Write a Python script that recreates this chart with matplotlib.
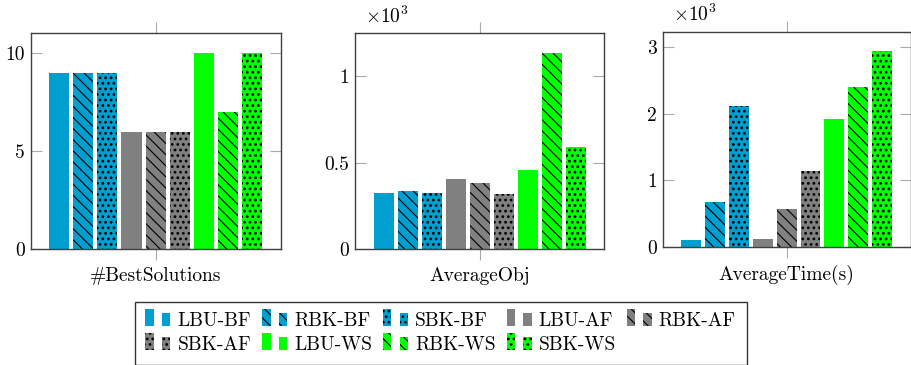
import matplotlib
matplotlib.use("Agg")
import matplotlib.pyplot as plt
from matplotlib.patches import Rectangle
from matplotlib.legend_handler import HandlerBase
from matplotlib.container import BarContainer

plt.rcParams["font.family"] = "cmr10"
plt.rcParams["mathtext.fontset"] = "cm"
plt.rcParams["axes.formatter.use_mathtext"] = True
plt.rcParams["axes.unicode_minus"] = False
plt.rcParams["hatch.linewidth"] = 0.8
plt.rcParams["font.size"] = 14

# data
methods = ["LBU-BF", "RBK-BF", "SBK-BF", "LBU-AF", "RBK-AF", "SBK-AF",
           "LBU-WS", "RBK-WS", "SBK-WS"]
best_solutions = [9, 9, 9, 6, 6, 6, 10, 7, 10]
avg_obj = [322, 336, 322, 403, 380, 318, 456, 1137, 591]
avg_time = [100, 672, 2117, 116, 567, 1139, 1921, 2398, 2949]

# style per method
colors = ["#009fd0"] * 3 + ["#808080"] * 3 + ["#00ff00"] * 3
hatches = ["", "\\\\\\", "..."] * 3
hatch_lw = {"": 0.8, "\\\\\\": 0.8, "...": 1.2}


class TwoBars(HandlerBase):
    # pgfplots-like ybar legend image: two little bars
    def create_artists(self, legend, orig_handle, xdescent, ydescent,
                       width, height, fontsize, trans):
        p = orig_handle.patches[0]
        w = width * 0.34
        out = []
        for x0, h in [(0, height * 1.28), (width * 0.66, height)]:
            with plt.rc_context({"hatch.linewidth": hatch_lw[p.get_hatch() or ""]}):
                r = Rectangle((x0 - xdescent, -ydescent), w, h,
                              facecolor=p.get_facecolor(), edgecolor="black",
                              linewidth=0, hatch=p.get_hatch(), transform=trans)
            out.append(r)
        return out


fig = plt.figure(figsize=(9.11, 3.65), dpi=100)

panels = [
    ("#BestSolutions", best_solutions, 1, [0, 5, 10], ["0", "5", "10"], 11.02,
     [30.7, 249, 250, 215.7]),
    ("AverageObj", avg_obj, 1000, [0, 0.5, 1], ["0", "0.5", "1"], 1.249,
     [355, 249, 249.3, 215.7]),
    ("AverageTime(s)", avg_time, 1000, [0, 1, 2, 3], ["0", "1", "2", "3"], 3.235,
     [662.7, 246.7, 248, 215]),
]

W, H = 911, 365
containers = []
for name, vals, scale, yt, ytl, ytop, (l, b, w, h) in panels:
    ax = fig.add_axes([l / W, 1 - b / H, w / W, h / H])
    conts = []
    for j in range(len(methods)):
        with plt.rc_context({"hatch.linewidth": hatch_lw[hatches[j]]}):
            c = ax.bar(j - 4, vals[j] / scale, width=20 / 24, color=colors[j],
                       hatch=hatches[j], edgecolor="black", linewidth=0,
                       label=methods[j])
        conts.append(c)
    if not containers:
        containers = conts
    ax.set_xlim(-5.19, 5.2)
    ax.set_ylim(0, ytop)
    ax.set_xticks([0])
    ax.set_xticklabels([name])
    ax.set_yticks(yt)
    ax.set_yticklabels(ytl)
    ax.tick_params(axis="x", direction="out", top=True, length=7.9,
                   width=0.8, color="#aaaaaa", pad=5)
    ax.tick_params(axis="y", direction="in", right=True, length=7.9,
                   width=0.8, color="#aaaaaa", pad=4)
    for s in ax.spines.values():
        s.set_color("#404040")
        s.set_linewidth(1.0)
    if scale == 1000:
        ax.text(0.04, 1.03, r"$\times10^{3}$", transform=ax.transAxes,
                ha="left", va="bottom", fontsize=14)

# legend filled row by row like pgfplots
order = [0, 5, 1, 6, 2, 7, 3, 8, 4]
leg = fig.legend([containers[i] for i in order], [methods[i] for i in order],
                 loc="upper left", bbox_to_anchor=(134.7 / W, 1 - 301.7 / H),
                 ncol=5, handler_map={BarContainer: TwoBars()},
                 frameon=True, fancybox=False, edgecolor="#333333",
                 framealpha=1, borderaxespad=0, handlelength=1.29,
                 handleheight=0.67, handletextpad=0.36, columnspacing=0.56,
                 labelspacing=0.3, borderpad=0.55, fontsize=14)
leg.get_frame().set_linewidth(1.0)

fig.savefig("out.png", dpi=100)
